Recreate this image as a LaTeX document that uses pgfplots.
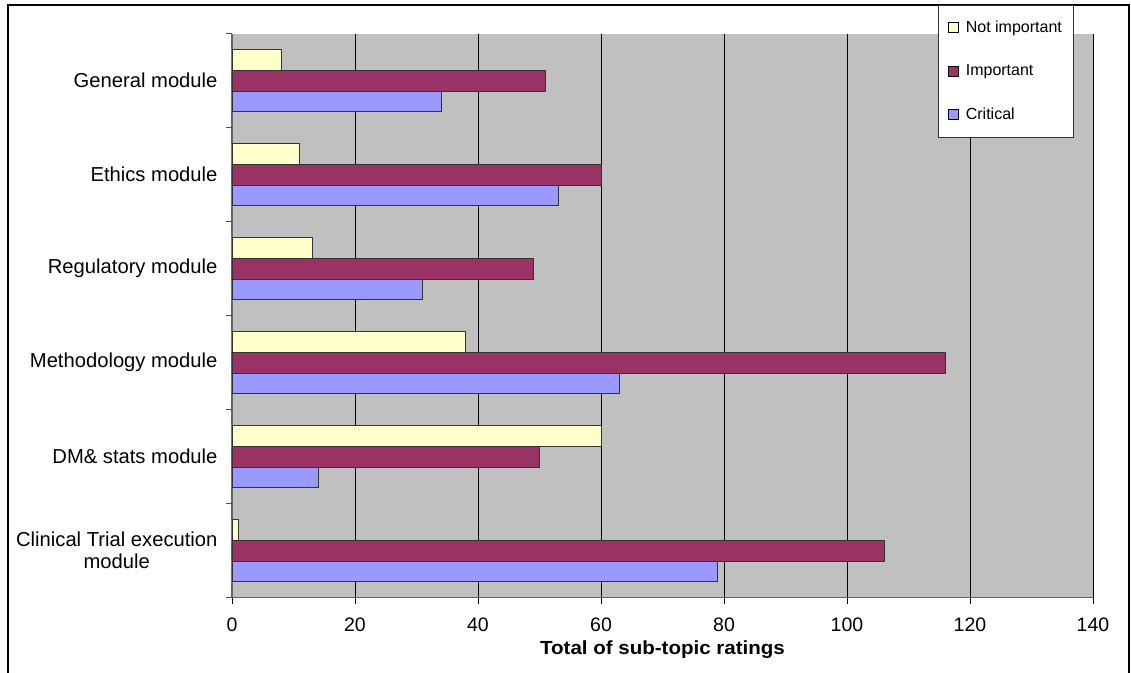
\documentclass[border=0pt]{standalone}
\usepackage{pgfplots}
\pgfplotsset{compat=1.18}
\usepackage{fontspec}
\setmainfont{Liberation Sans}
\newfontfamily\labfont[FakeStretch=1.08]{Liberation Sans}
\definecolor{crit}{HTML}{9999FF}
\definecolor{imp}{HTML}{993366}
\definecolor{noti}{HTML}{FFFFCC}
\definecolor{bg}{HTML}{C0C0C0}
\begin{document}
\begin{tikzpicture}
\clip (-232pt,-74.3pt) rectangle (899pt,597.7pt);
\draw[line width=1.5pt, black] (-224pt,-90pt) -- (-224pt,592.7pt) -- (897pt,592.7pt) -- (897pt,-90pt);
\begin{axis}[
  scale only axis, width=861pt, height=564pt,
  xbar, bar width=20.7pt,
  xmin=0, xmax=140, ymin=-0.5, ymax=5.5,
  xtick={0,20,...,140},
  ytick={0,...,5},
  yticklabels={{Clinical Trial execution\\module},{DM\& stats module},{Methodology module},{Regulatory module},{Ethics module},{General module}},
  y tick label style={align=center, font=\fontsize{20.2}{22}\selectfont, xshift=-5pt},
  x tick label style={font=\fontsize{19.5}{21}\selectfont, yshift=-11pt},
  /pgf/number format/assume math mode=true,
  ytick style={draw=none},
  extra y ticks={-0.5,0.5,1.5,2.5,3.5,4.5,5.5},
  extra y tick labels={},
  extra y tick style={ytick style={draw=black!70, line width=1pt}, major tick length=6pt, tick align=outside, tick pos=left},
  xtick style={draw=black, line width=0.8pt},
  major tick length=6pt, tick align=outside, tick pos=left,
  xmajorgrids, grid style={black, line width=0.8pt},
  axis lines*=left, axis line style={-, draw=black!60, line width=1.2pt},
  axis background/.style={fill=bg},
  xlabel={\bfseries Total of sub-topic ratings},
  xlabel style={font=\labfont\fontsize{19}{21}\selectfont, yshift=-2pt},
  legend style={at={(0.82,1.0509)}, anchor=north west, draw=black!80, fill=white,
    font=\fontsize{16}{18}\selectfont, row sep=28.5pt, inner xsep=10pt, inner ysep=15pt,
    nodes={inner sep=1pt},
    /tikz/every odd column/.append style={column sep=6pt}},
  legend cell align=left,
  legend image code/.code={\draw[#1, draw=black, line width=0.6pt] (0pt,-5pt) rectangle (10pt,5pt);},
  reverse legend,
]
\addplot[fill=crit, draw=black!80, line width=0.8pt, bar shift=-20.7pt] coordinates {(79,0) (14,1) (63,2) (31,3) (53,4) (34,5)};
\addplot[fill=imp, draw=black!80, line width=0.8pt, bar shift=0pt] coordinates {(106,0) (50,1) (116,2) (49,3) (60,4) (51,5)};
\addplot[fill=noti, draw=black!80, line width=0.8pt, bar shift=20.7pt] coordinates {(1,0) (60,1) (38,2) (13,3) (11,4) (8,5)};
\legend{Critical, Important, Not important}
\end{axis}
\end{tikzpicture}
\end{document}
